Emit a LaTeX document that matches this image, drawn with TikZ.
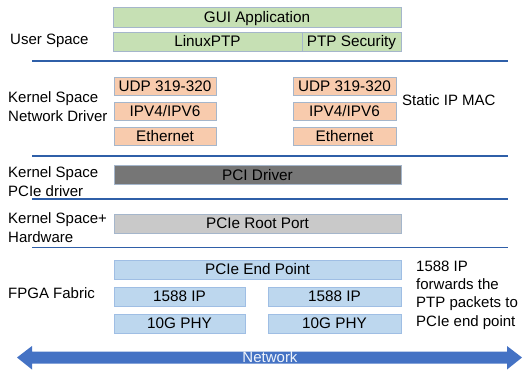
\documentclass[tikz,border=0pt]{standalone}
\usepackage{fontspec}
\setmainfont{Liberation Sans}
\definecolor{greenfill}{HTML}{C6E0B4}
\definecolor{orangefill}{HTML}{F8CBAD}
\definecolor{darkfill}{HTML}{767676}
\definecolor{greyfill}{HTML}{C9C9C9}
\definecolor{bluefill}{HTML}{BDD7EE}
\definecolor{boxedge}{HTML}{A5B6CB}
\definecolor{sepline}{HTML}{2F5FA8}
\definecolor{netblue}{HTML}{4472C4}
\tikzset{
  blk/.style={draw=boxedge, line width=0.9pt, font=\fontsize{15.3}{17}\selectfont,
    inner sep=0pt, text height=10.9pt, text depth=0pt},
  gbox/.style={blk, fill=greenfill},
  obox/.style={blk, fill=orangefill},
  dbox/.style={blk, fill=darkfill},
  lbox/.style={blk, fill=greyfill},
  bbox/.style={blk, fill=bluefill, draw=bluefill!75!netblue},
  lbl/.style={anchor=west, align=left, inner sep=0pt, font=\fontsize{15}{19}\selectfont},
  sep/.style={draw=sepline, line width=1.4pt}
}
\begin{document}
\begin{tikzpicture}[x=1pt, y=-1pt]
\useasboundingbox (0,0) rectangle (523,373);

% user space
\node[gbox, minimum width=288pt, minimum height=20pt] (gui) at (257,17) {GUI Application};
\node[gbox, minimum width=189pt, minimum height=19pt] (lptp) at (207.5,41.5) {LinuxPTP};
\node[gbox, minimum width=99pt, minimum height=19pt] (ptpsec) at (351.5,41.5) {PTP Security};
\node[lbl] (lus) at (10,41) {User Space};

% kernel network stacks
\node[obox, minimum width=102pt, minimum height=18pt] (udpl) at (165,86.5) {UDP 319-320};
\node[obox, minimum width=102pt, minimum height=18pt] (ipl) at (165,111) {IPV4/IPV6};
\node[obox, minimum width=102pt, minimum height=18pt] (ethl) at (165,136.5) {Ethernet};
\node[obox, minimum width=103pt, minimum height=18pt] (udpr) at (344.5,86.5) {UDP 319-320};
\node[obox, minimum width=103pt, minimum height=18pt] (ipr) at (344.5,111) {IPV4/IPV6};
\node[obox, minimum width=103pt, minimum height=18pt] (ethr) at (344.5,136.5) {Ethernet};
\node[lbl] (lknd) at (8,106.5) {Kernel Space\\Network Driver};
\node[lbl] (lsip) at (402,100) {Static IP MAC};

% PCI driver
\node[dbox, minimum width=287pt, minimum height=19pt] (pcid) at (257.5,175) {PCI Driver};
\node[lbl] (lkpd) at (8,181.5) {Kernel Space\\PCIe driver};

% root port
\node[lbox, minimum width=287pt, minimum height=19pt] (root) at (257.5,223.5) {PCIe Root Port};
\node[lbl] (lksh) at (8,227.5) {Kernel Space+\\Hardware};

% FPGA fabric
\node[bbox, minimum width=287pt, minimum height=19pt] (ep) at (257.5,269.5) {PCIe End Point};
\node[bbox, minimum width=131pt, minimum height=19pt] (ipl5) at (179.5,296.5) {1588 IP};
\node[bbox, minimum width=133pt, minimum height=19pt] (ipr5) at (334.5,296.5) {1588 IP};
\node[bbox, minimum width=131pt, minimum height=19pt] (phyl) at (179.5,323.5) {10G PHY};
\node[bbox, minimum width=133pt, minimum height=19pt] (phyr) at (334.5,323.5) {10G PHY};
\node[lbl] (lfpga) at (8,293) {FPGA Fabric};
\node[lbl, font=\fontsize{15}{18.3}\selectfont] (lfwd) at (416,295) {1588 IP\\forwards the\\PTP packets to\\PCIe end point};

% layer separators
\coordinate (s1a) at (32,61);  \coordinate (s1b) at (508,61);
\coordinate (s2a) at (32,156); \coordinate (s2b) at (508,156);
\coordinate (s3a) at (32,199); \coordinate (s3b) at (508,199);
\coordinate (s4a) at (32,247.5); \coordinate (s4b) at (508,247.5);
\draw[sep] (s1a) -- (s1b);
\draw[sep] (s2a) -- (s2b);
\draw[sep] (s3a) -- (s3b);
\draw[sep] (s4a) -- (s4b);

% network double arrow
\fill[netblue] (17,357.5) -- (32,346) -- (32,351.5) -- (507,351.5) -- (507,346)
  -- (522,357.5) -- (507,369.5) -- (507,363.5) -- (32,363.5) -- (32,369.5) -- cycle;
\node[font=\fontsize{15}{17}\selectfont, text=white!92!netblue, inner sep=0pt,
  text height=10.9pt, text depth=0pt] (nettxt) at (270,357.5) {Network};
\end{tikzpicture}
\end{document}
